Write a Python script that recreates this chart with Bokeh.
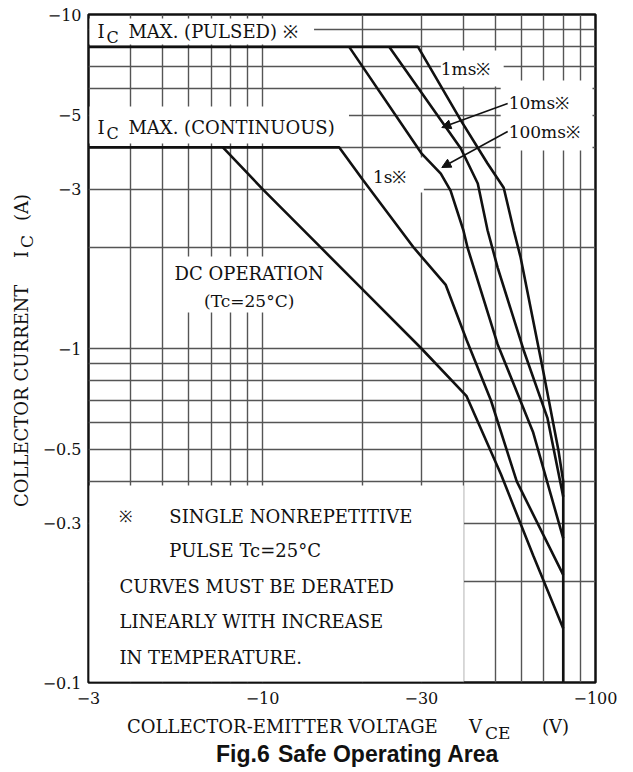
import math
from bokeh.plotting import figure
from bokeh.layouts import column, row
from bokeh.models import Range1d, FixedTicker, Label, BoxAnnotation, Arrow, NormalHead, Div
from bokeh.embed import file_html
from bokeh.resources import INLINE

# ---------------- data (|V_CE| in volts, |I_C| in amperes) ----------------
dc_v = [7.6, 10, 15, 20, 30, 41, 52, 65, 80]
dc_i = [4.0, 3.0, 2.0, 1.5, 1.0, 0.72, 0.42, 0.24, 0.145]

s1_v = [3, 17, 20, 28.5, 35.5, 41, 48.5, 58, 80]
s1_i = [4.0, 4.0, 3.2, 2.0, 1.55, 1.06, 0.70, 0.40, 0.21]

ms100_v = [18.2, 30, 34.3, 36.7, 40.1, 41.3, 50.8, 65, 80]
ms100_i = [8.0, 3.84, 3.34, 2.97, 2.26, 2.0, 1.03, 0.56, 0.27]

ms10_v = [24.0, 39.4, 44.3, 47.4, 50.8, 60.8, 71.7, 80]
ms10_i = [8.0, 3.97, 3.12, 2.26, 1.75, 0.99, 0.62, 0.36]

ms1_v = [3, 29.3, 39.4, 47.4, 53, 56.8, 59.6, 69.9, 77.4, 80, 80]
ms1_i = [8.0, 8.0, 4.82, 3.58, 3.03, 2.26, 1.87, 0.84, 0.495, 0.40, 0.1]

x_ticks = [3, 10, 30, 100]
x_tick_labels = ["\u22123", "\u221210", "\u221230", "\u2212100"]
y_ticks = [0.1, 0.3, 0.5, 1, 3, 5, 10]
y_tick_labels = ["\u22120.1", "\u22120.3", "\u22120.5", "\u22121", "\u22123", "\u22125", "\u221210"]
x_grid = [3, 4, 5, 6, 7, 8, 9, 10, 20, 30, 40, 50, 60, 70, 80, 90, 100]
y_grid = [0.1, 0.2, 0.3, 0.4, 0.5, 0.6, 0.7, 0.8, 0.9, 1, 2, 3, 4, 5, 6, 7, 8, 9, 10]

# ---------------- layout helpers (page pixel -> data) ----------------
FX0, FX1, FY0, FY1 = 87, 595, 14, 682
XMIN, XMAX, YMIN, YMAX = 3, 100, 0.1, 10
YDIV_W = 39
SERIF = "DejaVu Serif"


def V(px):
    return XMIN * 10 ** ((px - FX0) / (FX1 - FX0) * math.log10(XMAX / XMIN))


def I(py):
    return YMAX * 10 ** (-(py - FY0) / (FY1 - FY0) * math.log10(YMAX / YMIN))


p = figure(width=625 - YDIV_W, height=712, x_axis_type="log", y_axis_type="log",
           x_range=Range1d(XMIN, XMAX), y_range=Range1d(YMIN, YMAX),
           output_backend="svg", toolbar_location=None, title=None,
           min_border_left=FX0 - YDIV_W, min_border_right=30,
           min_border_top=FY0, min_border_bottom=712 - FY1, margin=0)
p.background_fill_color = "white"
p.border_fill_color = "white"
p.outline_line_color = "#111111"
p.outline_line_width = 2.5

# axes
for ax in (p.xaxis, p.yaxis):
    ax.axis_line_color = None
    ax.major_tick_line_color = None
    ax.minor_tick_line_color = None
    ax.major_tick_out = 0
    ax.major_tick_in = 0
    ax.minor_tick_out = 0
    ax.minor_tick_in = 0
    ax.major_label_text_font = SERIF
    ax.major_label_text_font_size = "16px"
    ax.major_label_text_color = "#111111"
p.xaxis.ticker = FixedTicker(ticks=x_ticks, minor_ticks=[])
p.yaxis.ticker = FixedTicker(ticks=y_ticks, minor_ticks=[])
p.xaxis.major_label_overrides = {float(t): s for t, s in zip(x_ticks, x_tick_labels)}
p.yaxis.major_label_overrides = {float(t): s for t, s in zip(y_ticks, y_tick_labels)}
p.xaxis.major_label_standoff = 9
p.yaxis.major_label_standoff = 7

# grid
p.xgrid.ticker = FixedTicker(ticks=x_grid, minor_ticks=[])
p.ygrid.ticker = FixedTicker(ticks=y_grid, minor_ticks=[])
for g in (p.xgrid, p.ygrid):
    g.grid_line_color = "#555555"
    g.grid_line_width = 1.4
    g.minor_grid_line_color = None


# white gaps in the grid behind the labels (drawn just above the grid)
def blank(x0, x1, y0, y1):
    p.add_layout(BoxAnnotation(left=V(x0), right=V(x1), top=I(y0), bottom=I(y1),
                               fill_color="white", fill_alpha=1.0, line_color=None,
                               level="underlay"))


blank(88, 313, 18, 44)
blank(88, 348, 106, 143)
blank(440, 503, 50, 86)
blank(500, 592, 80, 150)
blank(364, 423, 157, 192)
blank(166, 335, 256, 312)
blank(88, 463, 485, 681)

# curves
for xs, ys in ((ms1_v, ms1_i), (ms10_v, ms10_i), (ms100_v, ms100_i), (s1_v, s1_i), (dc_v, dc_i)):
    p.line(xs, ys, line_color="#111111", line_width=2.6)


def put(text, px, py, size="18px", align="left"):
    p.add_layout(Label(x=V(px), y=I(py), text=text, text_font=SERIF,
                       text_font_size=size, text_align=align, text_baseline="middle",
                       text_color="#111111"))


# in-plot labels
put("I", 96, 31)
put("C", 105, 37, size="16px")
put("MAX. (PULSED) \u203b", 127, 31)
put("I", 96, 127)
put("C", 105, 133, size="16px")
put("MAX. (CONTINUOUS)", 127, 127)
put("1ms\u203b", 440, 68, size="17px")
put("10ms\u203b", 508, 102, size="17px")
put("100ms\u203b", 508, 131, size="17px")
put("1s\u203b", 372, 176, size="17px")
put("DC OPERATION", 248, 273, align="center")
put("(Tc=25\u00b0C)", 248, 300, size="17px", align="center")

# note
put("\u203b", 118, 516, size="16px")
put("SINGLE NONREPETITIVE", 168, 516)
put("PULSE Tc=25\u00b0C", 168, 550)
put("CURVES MUST BE DERATED", 118, 586)
put("LINEARLY WITH INCREASE", 118, 621)
put("IN TEMPERATURE.", 118, 657)

# arrows to 10ms / 100ms
for (x0, y0, x1, y1) in ((507, 103, 441, 127), (507, 131, 441, 167)):
    p.add_layout(Arrow(end=NormalHead(size=9, line_color="#111111", fill_color="#111111"),
                       x_start=V(x0), y_start=I(y0), x_end=V(x1), y_end=I(y1),
                       line_color="#111111", line_width=1.5))


# ---------------- texts outside the plot frame (HTML, with subscripts) ----------------
def span(text, left, top, size=18, font=SERIF, weight="normal", lh=20):
    return ('<span style="position:absolute;left:%dpx;top:%dpx;white-space:nowrap;'
            'line-height:%dpx;font-family:\'%s\';font-size:%dpx;font-weight:%s;color:#111111;">%s</span>'
            % (left, top, lh, font, size, weight, text))


y_inner = (span("COLLECTOR CURRENT", 0, 2) + span("I", 249, 2) +
           span("C", 259, 7, size=17) + span("(A)", 286, 2))
ydiv = Div(width=YDIV_W, height=712, margin=0,
           text=('<div style="position:relative;width:%dpx;height:712px;">'
                 '<div style="position:absolute;left:0;top:0;width:330px;height:24px;'
                 'transform-origin:0 0;transform:translate(10px,507px) rotate(-90deg);">%s</div></div>'
                 % (YDIV_W, y_inner)))

x_inner = (span("COLLECTOR-EMITTER VOLTAGE", 127, 5) + span("V", 469, 5) +
           span("CE", 485, 11, size=17) + span("(V)", 542, 5))
xdiv = Div(width=625, height=30, margin=0,
           text='<div style="position:relative;width:625px;height:30px;">%s</div>' % x_inner)

cap_inner = (span("Fig.6", 216, 0, size=23, font="Liberation Sans", weight="bold", lh=24) +
             span("Safe Operating Area", 278, 0, size=23, font="Liberation Sans", weight="bold", lh=24))
capdiv = Div(width=625, height=30, margin=0,
             text='<div style="position:relative;width:625px;height:30px;">%s</div>' % cap_inner)

layout = column(row(ydiv, p, spacing=0, margin=0), xdiv, capdiv, spacing=0, margin=0)

open("out.html", "w").write(file_html(layout, INLINE))
